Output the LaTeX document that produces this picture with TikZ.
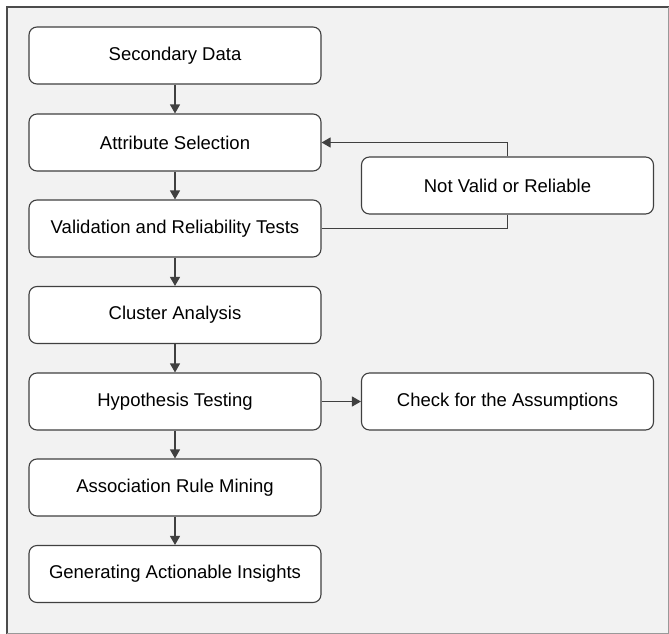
\documentclass[tikz,border=0pt]{standalone}
\usepackage{fontspec}
\setmainfont{Liberation Sans}
\usetikzlibrary{arrows.meta}

\begin{document}
\begin{tikzpicture}
                \tikzset{x=1pt, y=-1pt, >={Triangle[length=9pt, width=10pt]}}
                \tikzstyle{step box}=[rectangle, rounded corners=8pt, draw=black!75, line width=1.1pt, fill=white,
                                      minimum width=292pt, minimum height=57pt, inner sep=0pt,
                                      font=\fontsize{18.5}{22}\selectfont]
                \tikzstyle{link}=[draw=black!75, line width=1.1pt]

                \useasboundingbox (0, 0) rectangle (669, 634);
                \fill[black!5] (7, 7) rectangle (669, 634);
                \draw[black!70, line width=1.2pt] (7, 634) -- (7, 7) -- (669, 7);
                \draw[black!40, line width=1pt] (7, 633) -- (668, 633) -- (668, 7);

                \draw (175.0,  55.5)  node[step box] (s0)  {Secondary Data};
                \draw (175.0, 142.5)  node[step box] (s1)  {Attribute Selection};
                \draw (175.0, 228.5)  node[step box] (s2)  {Validation and Reliability Tests};
                \draw (175.0, 315.0)  node[step box] (s3)  {Cluster Analysis};
                \draw (175.0, 401.5)  node[step box] (s4)  {Hypothesis Testing};
                \draw (175.0, 487.5)  node[step box] (s5)  {Association Rule Mining};
                \draw (175.0, 574.0)  node[step box] (s6)  {Generating Actionable Insights};

                \draw (507.5, 185.5)  node[step box] (nv)  {Not Valid or Reliable};
                \draw (507.5, 401.5)  node[step box] (ck)  {Check for the Assumptions};

                \draw [link, ->]    (s0) -- (s1);
                \draw [link, ->]    (s1) -- (s2);
                \draw [link, ->]    (s2) -- (s3);
                \draw [link, ->]    (s3) -- (s4);
                \draw [link, ->]    (s4) -- (s5);
                \draw [link, ->]    (s5) -- (s6);
                \draw [link, ->]    (s4) -- (ck);

                \draw [link]        (s2.east) -| (nv.south);
                \draw [link, ->]    (nv.north) |- (s1.east);
            \end{tikzpicture}
\end{document}
